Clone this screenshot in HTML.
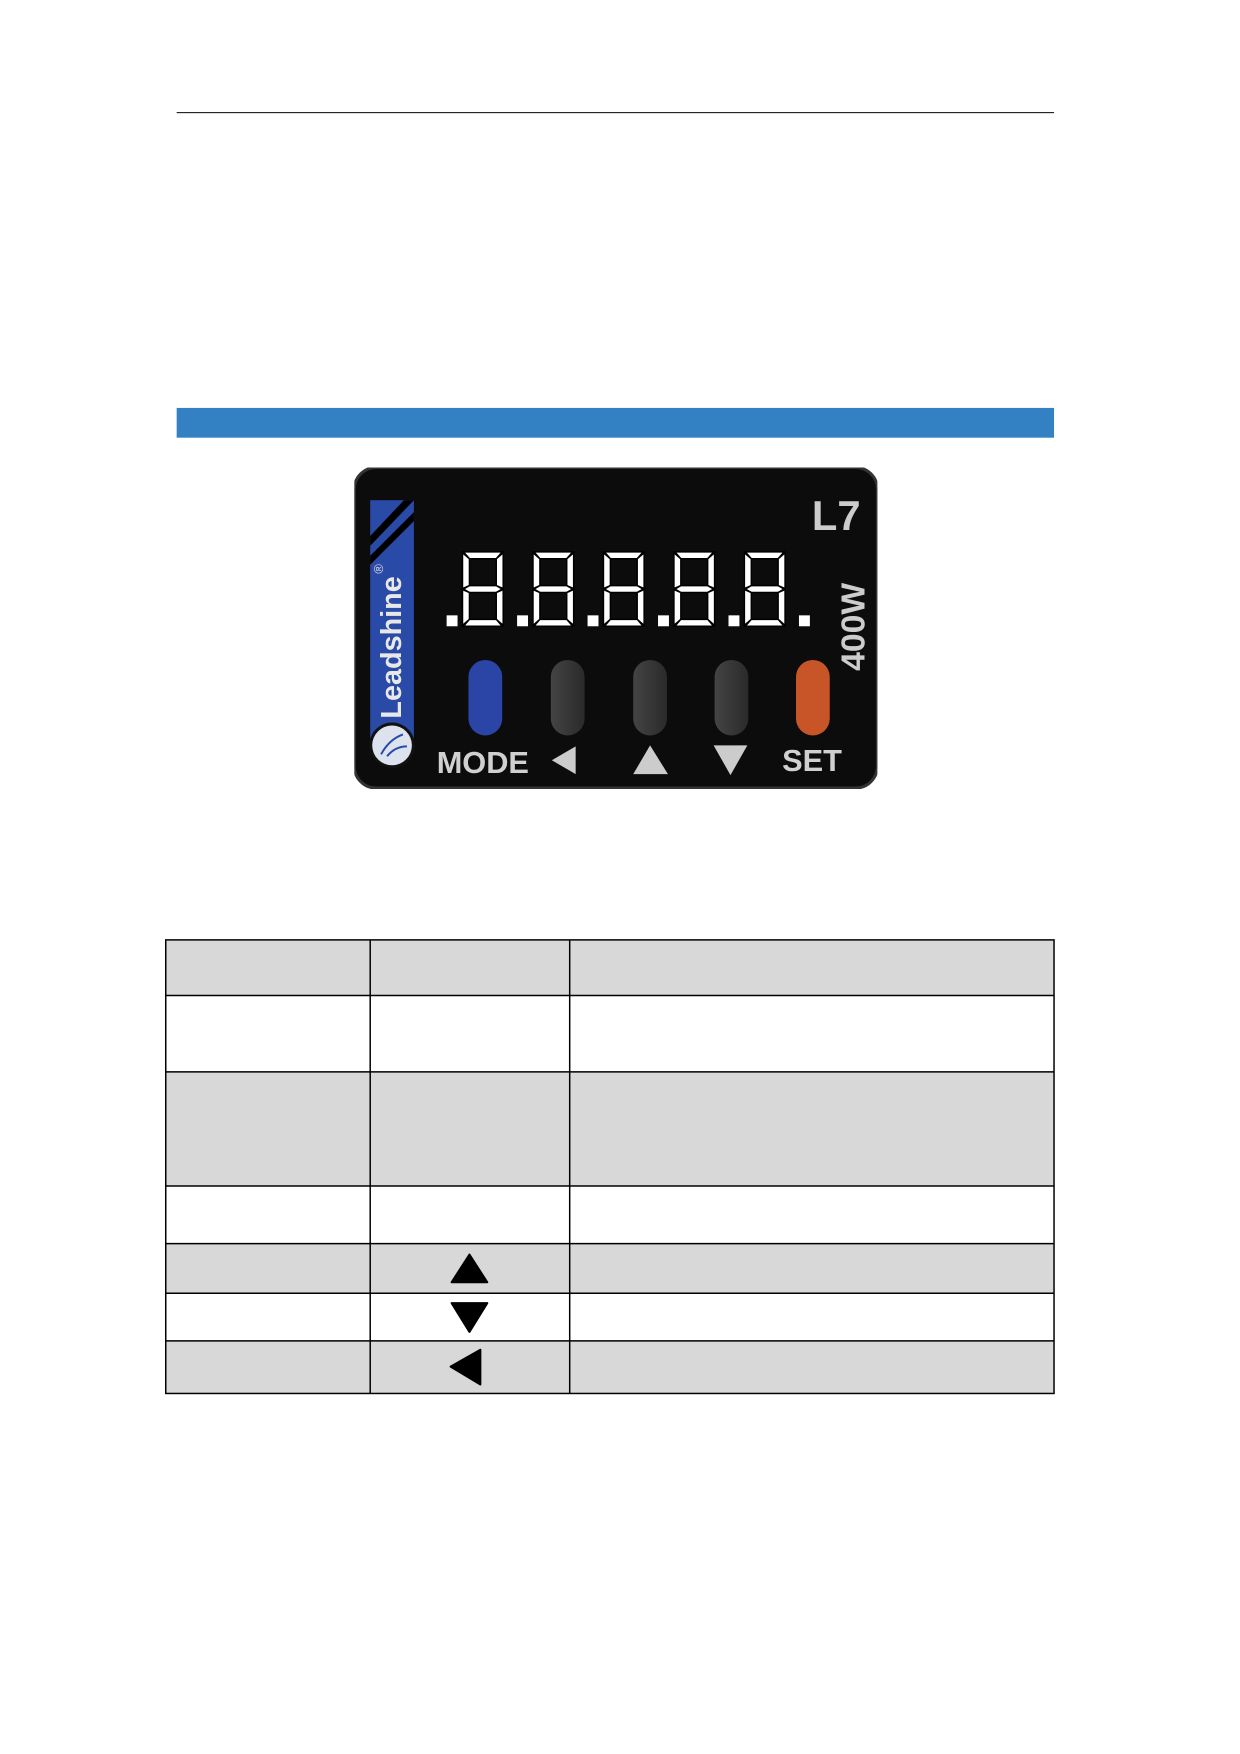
<!DOCTYPE html>
<html><head><meta charset="utf-8"><style>
body{margin:0;width:1240px;height:1754px;background:#fff;position:relative;font-family:"Liberation Sans",sans-serif;overflow:hidden}
#w{position:absolute;left:0;top:0;width:1240px;height:1754px;transform:scale(0.9925);transform-origin:0 0}
.a{position:absolute}
</style></head><body><div id="w">
<div class="a" style="left:178px;top:113px;width:884px;height:1px;background:#000"></div>
<div class="a" style="left:178px;top:411px;width:884px;height:30px;background:#3380c2"></div>

<svg class="a" style="left:357px;top:471px" width="527" height="324" viewBox="357 471 527 324">
<defs>
<g id="d" fill="#fff" stroke="#000" stroke-width="1.5">
<polygon points="1,0 40,0 34,7 7,7"/>
<polygon points="0,1 7,7 7,34 0,37"/>
<polygon points="41,1 41,37 34,34 34,7"/>
<polygon points="1,37.5 7,34 34,34 40,37.5 34,41 7,41"/>
<polygon points="0,38 7,41 7,68 0,74"/>
<polygon points="41,38 41,74 34,68 34,41"/>
<polygon points="1,75 7,68 34,68 40,75"/>
</g>
<linearGradient id="gb" x1="0" x2="1"><stop offset="0" stop-color="#444"/><stop offset="1" stop-color="#2a2a2a"/></linearGradient>
</defs>
<rect x="357" y="471" width="527" height="323" rx="22" fill="#0c0c0c"/>
<rect x="357" y="471" width="527" height="323" rx="22" fill="none" stroke="#333" stroke-width="3"/>
<rect x="373" y="504" width="44" height="240" fill="#2a4aa8"/>
<polygon points="373,540 407,504 417,504 373,550" fill="#000"/>
<polygon points="373,560 417,516 417,525 373,569" fill="#000"/>
<text transform="translate(404,724) rotate(-90)" font-family="Liberation Sans" font-weight="bold" font-size="29" fill="#e8e8e8">Leadshine</text>
<text transform="translate(386,578) rotate(-90)" font-size="13" fill="#ddd">®</text>
<circle cx="395" cy="751" r="23" fill="#111"/>
<circle cx="395" cy="751" r="20" fill="#dde3ee"/>
<path d="M384,760 Q392,745 406,740 M390,762 Q398,752 410,752" stroke="#2a4aa8" stroke-width="2" fill="none"/>
<text x="818" y="534" font-weight="bold" font-size="42" fill="#ccc">L7</text>
<text transform="translate(871,676) rotate(-90)" font-weight="bold" font-size="34" fill="#ccc">400W</text>
<g fill="#fff">
<rect x="450" y="620" width="11" height="11"/><rect x="521" y="620" width="11" height="11"/><rect x="592" y="620" width="11" height="11"/><rect x="663" y="620" width="11" height="11"/><rect x="734" y="620" width="11" height="11"/><rect x="805" y="620" width="11" height="11"/>
</g>
<use href="#d" x="466" y="556"/><use href="#d" x="537" y="556"/><use href="#d" x="608" y="556"/><use href="#d" x="679" y="556"/><use href="#d" x="750" y="556"/>
<rect x="472" y="665" width="34" height="76" rx="17" fill="#2a45a6"/>
<rect x="555" y="665" width="34" height="76" rx="17" fill="url(#gb)"/>
<rect x="638" y="665" width="34" height="76" rx="17" fill="url(#gb)"/>
<rect x="720" y="665" width="34" height="76" rx="17" fill="url(#gb)"/>
<rect x="802" y="665" width="34" height="76" rx="17" fill="#c85528"/>
<text x="440" y="779" font-weight="bold" font-size="31" fill="#d0d0d0">MODE</text>
<polygon points="556,766 580,752 580,780" fill="#ccc"/>
<polygon points="655,751 638,780 673,780" fill="#ccc"/>
<polygon points="719,751 753,751 736,781" fill="#ccc"/>
<text x="788" y="777" font-weight="bold" font-size="31" fill="#d0d0d0">SET</text>
</svg>

<svg class="a" style="left:0;top:0" width="1240" height="1754">
<g fill="#d8d8d8">
<rect x="167" y="947" width="895" height="56"/>
<rect x="167" y="1080" width="895" height="115"/>
<rect x="167" y="1253" width="895" height="50"/>
<rect x="167" y="1351" width="895" height="53"/>
</g>
<g stroke="#000" stroke-width="1.5" fill="none">
<rect x="167" y="947" width="895" height="457"/>
<line x1="373" y1="947" x2="373" y2="1404"/>
<line x1="574" y1="947" x2="574" y2="1404"/>
<line x1="167" y1="1003" x2="1062" y2="1003"/>
<line x1="167" y1="1080" x2="1062" y2="1080"/>
<line x1="167" y1="1195" x2="1062" y2="1195"/>
<line x1="167" y1="1253" x2="1062" y2="1253"/>
<line x1="167" y1="1303" x2="1062" y2="1303"/>
<line x1="167" y1="1351" x2="1062" y2="1351"/>
</g>
<g fill="#000" stroke="#000" stroke-width="2" stroke-linejoin="round">
<polygon points="473,1264 455,1292 491,1292"/>
<polygon points="455,1313 491,1313 473,1342"/>
<polygon points="484,1360 484,1395 454,1377"/>
</g>
</svg>
</div></body></html>
